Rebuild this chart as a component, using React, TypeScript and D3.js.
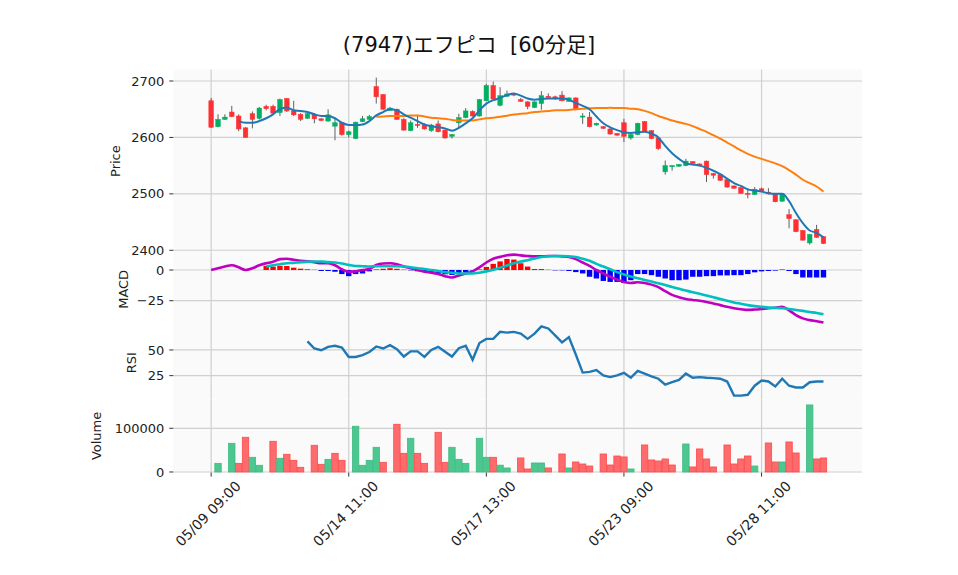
import React, { useEffect, useRef } from "react";
import * as d3 from "d3";

// hourly bars, 6 per day, 05/09 09:00 .. 05/29 14:00
const tickIdx = [0, 20, 40, 60, 80];
const tickLabels = ["05/09 09:00", "05/14 11:00", "05/17 13:00", "05/23 09:00", "05/28 11:00"];

const opens = [
  2665, 2619, 2632, 2645, 2638, 2617, 2642, 2634, 2655, 2655,
  2644, 2669, 2647, 2641, 2634, 2641, 2633, 2629, 2620, 2626,
  2605, 2598, 2628, 2632, 2690, 2676, 2648, 2650, 2632, 2612,
  2623, 2622, 2612, 2624, 2613, 2602, 2626, 2635, 2646, 2638,
  2665, 2692, 2657, 2673, 2677, 2667, 2663, 2653, 2660, 2673,
  2672, 2675, 2664, 2670, 2636, 2636, 2622, 2619, 2615, 2607,
  2626, 2599, 2605, 2628, 2612, 2599, 2539, 2548, 2549, 2550,
  2557, 2553, 2558, 2536, 2534, 2525, 2514, 2511, 2501, 2499,
  2509, 2503, 2500, 2487, 2463, 2454, 2435, 2413, 2437, 2424,
];
const highs = [
  2670, 2641, 2641, 2656, 2641, 2618, 2646, 2654, 2658, 2658,
  2669, 2670, 2665, 2643, 2643, 2643, 2634, 2650, 2634, 2627,
  2612, 2628, 2638, 2640, 2706, 2677, 2654, 2651, 2634, 2630,
  2640, 2625, 2624, 2630, 2614, 2606, 2642, 2652, 2648, 2668,
  2695, 2699, 2689, 2683, 2679, 2670, 2664, 2664, 2682, 2678,
  2674, 2682, 2671, 2671, 2643, 2645, 2626, 2620, 2616, 2608,
  2633, 2606, 2626, 2629, 2613, 2600, 2559, 2551, 2553, 2562,
  2558, 2554, 2559, 2537, 2535, 2526, 2515, 2512, 2510, 2512,
  2511, 2510, 2501, 2501, 2473, 2455, 2436, 2429, 2445, 2425,
];
const lows = [
  2617, 2618, 2631, 2636, 2611, 2600, 2616, 2632, 2648, 2642,
  2638, 2645, 2638, 2629, 2633, 2625, 2629, 2628, 2595, 2603,
  2600, 2597, 2627, 2631, 2660, 2649, 2647, 2631, 2612, 2611,
  2617, 2614, 2610, 2609, 2598, 2598, 2616, 2634, 2637, 2637,
  2664, 2667, 2655, 2672, 2673, 2663, 2650, 2652, 2649, 2670,
  2667, 2664, 2663, 2648, 2624, 2618, 2621, 2615, 2605, 2603,
  2592, 2596, 2604, 2610, 2597, 2578, 2534, 2541, 2548, 2549,
  2553, 2549, 2521, 2527, 2523, 2511, 2509, 2500, 2492, 2498,
  2504, 2499, 2485, 2486, 2439, 2432, 2417, 2410, 2422, 2411,
];
const closes = [
  2618, 2632, 2636, 2637, 2615, 2600, 2632, 2652, 2651, 2643,
  2667, 2647, 2640, 2632, 2642, 2633, 2630, 2640, 2626, 2605,
  2610, 2627, 2633, 2637, 2672, 2650, 2652, 2632, 2613, 2626,
  2621, 2615, 2622, 2610, 2599, 2605, 2635, 2647, 2638, 2667,
  2692, 2668, 2674, 2677, 2675, 2664, 2655, 2663, 2674, 2671,
  2670, 2665, 2670, 2650, 2638, 2619, 2625, 2616, 2606, 2604,
  2602, 2605, 2625, 2611, 2598, 2580, 2550, 2550, 2552, 2558,
  2554, 2551, 2534, 2533, 2524, 2512, 2510, 2501, 2500, 2508,
  2505, 2500, 2486, 2500, 2456, 2433, 2418, 2428, 2423, 2412,
];

// moving averages (start index 4 and 24)
const ma5Start = 4;
const ma5 = [
  2629, 2626, 2626, 2629, 2634, 2641, 2650, 2653, 2648, 2647,
  2645, 2641, 2638, 2638, 2634, 2626, 2622, 2622, 2623, 2629,
  2639, 2645, 2650, 2648, 2641, 2635, 2629, 2623, 2620, 2618,
  2616, 2612, 2617, 2625, 2634, 2648, 2660, 2666, 2670, 2675,
  2678, 2674, 2669, 2667, 2668, 2669, 2669, 2669, 2667, 2661,
  2656, 2650, 2637, 2625, 2618, 2613, 2609, 2608, 2609, 2610,
  2607, 2600, 2585, 2572, 2562, 2554, 2552, 2550, 2546, 2541,
  2535, 2527, 2519, 2514, 2508, 2506, 2504, 2501, 2500, 2500,
  2487, 2466, 2448, 2435, 2431, 2423,
];
const ma25Start = 24;
const ma25 = [
  2636.5, 2637, 2638, 2638, 2638, 2639, 2639, 2637, 2635, 2634,
  2633, 2631, 2630, 2630, 2630, 2632, 2634, 2635, 2636.5, 2638.5,
  2640.5, 2642, 2643, 2645, 2646, 2647, 2648, 2648, 2648.5, 2650,
  2651, 2651.5, 2652, 2652, 2652.5, 2652, 2652, 2651, 2650, 2647,
  2643, 2638, 2634, 2630, 2627, 2624, 2620, 2615, 2610, 2604,
  2598, 2591, 2584, 2577, 2571, 2566, 2562, 2558, 2554, 2549,
  2542, 2534, 2525, 2519, 2513, 2504,
];

// MACD line from bar 0, signal and histogram from bar 8
const macdLine = [
  0, 1.4, 2.8, 3.9, 2.2, 0, 1.4, 3.9, 5.5, 6.7,
  8.9, 9.2, 8.3, 7.5, 7.2, 6.4, 5.5, 5.5, 3.9, 0.6,
  -1.4, -1.1, 0, 0.8, 4.2, 5.3, 5.5, 4.7, 2.8, 1.4,
  0, -1.4, -2.2, -3.3, -5, -6.1, -4.4, -2.8, -1.1, 2.2,
  6.1, 9.2, 10.7, 12, 12.5, 11.9, 11.4, 11.1, 11.1, 11.4,
  11.4, 11.1, 10.6, 8.9, 6.1, 3.3, 0, -2.8, -5.5, -7.8,
  -9.7, -10.6, -10, -10.6, -11.9, -13.9, -17.2, -20.3, -22.2, -23.6,
  -24.4, -25, -26.1, -27.2, -28.6, -30, -31.1, -31.9, -32.5, -32.2,
  -31.7, -31.1, -30.8, -30, -32.8, -36.7, -39.4, -40.8, -41.7, -42.8,
];
const signalStart = 8;
const signalLine = [
  2.8, 3.9, 4.7, 5.5, 5.8, 6.4, 6.7, 6.9, 6.9, 6.4,
  6.1, 5.3, 4.2, 3.3, 3.1, 2.8, 3.1, 3.1, 3.1, 3.1,
  2.8, 2.2, 1.4, 0.8, 0, -0.8, -1.7, -2.2, -2.8, -2.8,
  -2.8, -2.2, -1.1, 0.3, 1.9, 3.6, 5.5, 6.9, 8, 9.4,
  10.6, 11.1, 11.4, 11.4, 11.1, 10.6, 9.2, 7.5, 5, 2.8,
  0.6, -1.7, -3.6, -5.3, -6.7, -8.1, -9.4, -10.8, -12.2, -13.9,
  -15.3, -16.7, -18.1, -19.4, -20.8, -22.2, -23.6, -25, -26.4, -27.5,
  -28.6, -29.4, -30, -30.6, -30.8, -31.1, -31.7, -32.5, -33.3, -34.2,
  -35, -36.1,
];
const histStart = 8;
const histValues = [
  3.3, 2.8, 3.3, 3.3, 1.9, 1.1, 0.6, 0.2, -0.8, -0.8,
  -1.4, -3.3, -5, -3.3, -2.8, -1.1, 0.5, 1, 1.5, 1,
  0.3, -0.3, -1, -1.5, -2.5, -3, -3.5, -4, -3, -2,
  -0.5, 0.5, 2.5, 5, 7, 9, 8.5, 5.5, 2.8, 0.8,
  0.8, 0.2, -0.3, -0.3, -0.8, -1.7, -2.8, -5.5, -6.9, -8.9,
  -9.7, -9.7, -10.6, -8.3, -3.3, -3.3, -4.2, -5.5, -6.9, -8.3,
  -8.3, -7.8, -5.5, -5.5, -5, -5, -4.4, -4.4, -4.2, -4.2,
  -3.3, -1.9, -1.1, -0.8, -0.5, 0.5, -0.8, -3.3, -6.1, -6.1,
  -6.1, -6.1,
];

const rsiStart = 14;
const rsiValues = [
  58.4, 51.4, 49.7, 53, 54, 52.4, 43.2, 43.2, 45, 48,
  53.4, 51.4, 54.7, 50.7, 43.6, 48.6, 48.6, 43.2, 50, 53,
  48.3, 43.6, 51.7, 54, 40.5, 56.8, 60.8, 60.8, 67.6, 66.9,
  67.6, 65.9, 60.8, 65.9, 73, 70.9, 64.2, 57.4, 62.5, 45.6,
  28, 28.7, 30.4, 25.3, 23.6, 25.3, 27.7, 23, 29.7, 27,
  24.3, 22, 16.2, 18.6, 20.9, 27, 23, 23.6, 23, 22.6,
  22, 19.3, 5.6, 5.6, 6.4, 15.2, 20.3, 19.3, 14.5, 22,
  15.2, 13.5, 13.5, 18.6, 19.3, 19.3,
];

const volumes = [
  0, 19800, 0, 65600, 19800, 79400, 33600, 15300, 0, 70200,
  31300, 40500, 26700, 10700, 0, 61100, 17600, 29000, 42700, 26700,
  0, 104600, 15300, 26700, 56500, 22100, 0, 109200, 42700, 77100,
  42700, 19800, 0, 90800, 22100, 56500, 29000, 19800, 0, 77100,
  33600, 33600, 15600, 9200, 0, 32100, 6900, 20600, 20600, 9200,
  0, 41200, 9200, 22900, 18300, 13700, 0, 41200, 16000, 36600,
  34400, 6900, 0, 61800, 27500, 25200, 29800, 16000, 0, 64100,
  11500, 52700, 29800, 11500, 0, 61800, 18300, 29800, 36600, 13700,
  0, 66400, 22900, 22900, 68700, 43500, 0, 153400, 29800, 32100,
];
// 1 = close above previous close
const volUp = [
  0, 1, 1, 1, 0, 0, 1, 1, 0, 0,
  1, 0, 0, 0, 1, 0, 0, 1, 0, 0,
  1, 1, 1, 1, 1, 0, 1, 0, 0, 1,
  0, 0, 1, 0, 0, 1, 1, 1, 0, 1,
  1, 0, 1, 1, 0, 0, 0, 1, 1, 0,
  0, 0, 1, 0, 0, 0, 1, 0, 0, 0,
  0, 1, 1, 0, 0, 0, 0, 0, 1, 1,
  0, 0, 0, 0, 0, 0, 0, 0, 0, 1,
  0, 0, 0, 1, 0, 0, 0, 1, 0, 0,
];

const priceTicks = [2400, 2500, 2600, 2700];
const macdTicks = [0, -25];
const rsiTicks = [25, 50];
const volTicks = [0, 100000];

const FONT = "'DejaVu Sans', 'Noto Sans CJK JP', sans-serif";

export default function App() {
  const ref = useRef<SVGSVGElement>(null);

  useEffect(() => {
    const svg = d3.select(ref.current);
    svg.selectAll("*").remove();

    const left = 173.3,
      right = 862;
    const x = d3.scaleLinear().domain([-5.5, 94.6]).range([left, right]);

    const panels = [
      { name: "Price", top: 69.5, bottom: 252.7, dom: [2395.7, 2720.4], ticks: priceTicks, labelX: 115 },
      { name: "MACD", top: 252.7, bottom: 326, dom: [-45.6, 14.1], ticks: macdTicks, labelX: 123 },
      { name: "RSI", top: 326, bottom: 399.3, dom: [2.0, 73.3], ticks: rsiTicks, labelX: 131 },
      { name: "Volume", top: 399.3, bottom: 472.6, dom: [-1400, 166300], ticks: volTicks, labelX: 96 },
    ];
    const ys = panels.map(p => d3.scaleLinear().domain(p.dom).range([p.bottom, p.top]));

    const fmt = (v: number) => (v < 0 ? "\u2212" + Math.abs(v) : String(v));

    panels.forEach((p, k) => {
      const y = ys[k];
      const g = svg.append("g");
      g.append("rect")
        .attr("x", left)
        .attr("y", p.top)
        .attr("width", right - left)
        .attr("height", p.bottom - p.top)
        .attr("fill", "#fafafa");
      // grid
      tickIdx.forEach(t => {
        g.append("line")
          .attr("x1", x(t)).attr("x2", x(t))
          .attr("y1", p.top).attr("y2", p.bottom)
          .attr("stroke", "#d0d0d0").attr("stroke-width", 1.2);
      });
      p.ticks.forEach(t => {
        g.append("line")
          .attr("x1", left).attr("x2", right)
          .attr("y1", y(t)).attr("y2", y(t))
          .attr("stroke", "#d0d0d0").attr("stroke-width", 1.2);
        g.append("line")
          .attr("x1", left - 4).attr("x2", left)
          .attr("y1", y(t)).attr("y2", y(t))
          .attr("stroke", "#333").attr("stroke-width", 1);
        g.append("text")
          .attr("x", left - 9)
          .attr("y", y(t))
          .attr("dy", "0.35em")
          .attr("text-anchor", "end")
          .attr("font-family", FONT)
          .attr("font-size", 13)
          .attr("fill", "#222")
          .text(fmt(t));
      });
      const cy = (p.top + p.bottom) / 2;
      g.append("text")
        .attr("transform", `translate(${p.labelX},${cy}) rotate(-90)`)
        .attr("text-anchor", "middle")
        .attr("dy", "0.35em")
        .attr("font-family", FONT)
        .attr("font-size", 13)
        .attr("fill", "#222")
        .text(p.name);
    });

    // price panel: candles
    const yP = ys[0];
    const cw = 4.6;
    const candles = svg.append("g");
    closes.forEach((c, i) => {
      const o = opens[i];
      const up = c >= o;
      candles.append("line")
        .attr("x1", x(i)).attr("x2", x(i))
        .attr("y1", yP(highs[i])).attr("y2", yP(lows[i]))
        .attr("stroke", "#606060").attr("stroke-width", 1);
      const top = yP(Math.max(o, c));
      const h = Math.max(1, yP(Math.min(o, c)) - top);
      candles.append("rect")
        .attr("x", x(i) - cw / 2)
        .attr("y", top)
        .attr("width", cw)
        .attr("height", h)
        .attr("fill", up ? "#00b060" : "#fe3032")
        .attr("stroke", up ? "#00b060" : "#fe3032")
        .attr("stroke-width", 0.5);
    });

    const smooth = (start: number, vals: number[], y: d3.ScaleLinear<number, number>) =>
      d3.line<number>()
        .x((_, j) => x(start + j))
        .y(v => y(v))
        .curve(d3.curveMonotoneX)(vals);

    svg.append("path").attr("d", smooth(ma25Start, ma25, yP))
      .attr("fill", "none").attr("stroke", "#ff7f0e").attr("stroke-width", 2);
    svg.append("path").attr("d", smooth(ma5Start, ma5, yP))
      .attr("fill", "none").attr("stroke", "#1f77b4").attr("stroke-width", 2);

    // MACD panel
    const yM = ys[1];
    const hw = 5.4;
    histValues.forEach((v, j) => {
      const i = histStart + j;
      svg.append("rect")
        .attr("x", x(i) - hw / 2)
        .attr("y", Math.min(yM(v), yM(0)))
        .attr("width", hw)
        .attr("height", Math.abs(yM(v) - yM(0)))
        .attr("fill", v >= 0 ? "#ff0000" : "#0000ff");
    });
    svg.append("path").attr("d", smooth(0, macdLine, yM))
      .attr("fill", "none").attr("stroke", "#bf00bf").attr("stroke-width", 2.6);
    svg.append("path").attr("d", smooth(signalStart, signalLine, yM))
      .attr("fill", "none").attr("stroke", "#00bfbf").attr("stroke-width", 2.6);

    // RSI panel
    const yR = ys[2];
    svg.append("path")
      .attr("d", d3.line<number>().x((_, j) => x(rsiStart + j)).y(v => yR(v))(rsiValues))
      .attr("fill", "none").attr("stroke", "#1f77b4").attr("stroke-width", 2.4);

    // Volume panel
    const yV = ys[3];
    const vw = 6.4;
    volumes.forEach((v, i) => {
      if (v <= 0) return;
      svg.append("rect")
        .attr("x", x(i) - vw / 2)
        .attr("y", yV(v))
        .attr("width", vw)
        .attr("height", yV(0) - yV(v))
        .attr("fill", volUp[i] ? "#4dc790" : "#fd6b6c")
        .attr("stroke", volUp[i] ? "#3dbb80" : "#fe4a4c")
        .attr("stroke-width", 0.8);
    });

    // x axis ticks and labels
    const axisY = 472.6;
    tickIdx.forEach((t, k) => {
      svg.append("line")
        .attr("x1", x(t)).attr("x2", x(t))
        .attr("y1", axisY).attr("y2", axisY + 4)
        .attr("stroke", "#333").attr("stroke-width", 1);
      const cx = x(t) - 3,
        cy = axisY + 41;
      svg.append("text")
        .attr("transform", `translate(${cx},${cy}) rotate(-45)`)
        .attr("text-anchor", "middle")
        .attr("dy", "0.35em")
        .attr("font-family", FONT)
        .attr("font-size", 14)
        .attr("fill", "#222")
        .style("white-space", "pre")
        .text(tickLabels[k]);
    });

    // title
    svg.append("text")
      .attr("x", 469)
      .attr("y", 52)
      .attr("text-anchor", "middle")
      .attr("font-family", FONT)
      .attr("font-size", 21)
      .attr("fill", "#111")
      .style("white-space", "pre")
      .text("(7947)エフピコ  [60分足]");
  }, []);

  return (
    <svg
      ref={ref}
      width={958}
      height={575}
      style={{ position: "absolute", left: 0, top: 0, background: "#fff" }}
    />
  );
}
